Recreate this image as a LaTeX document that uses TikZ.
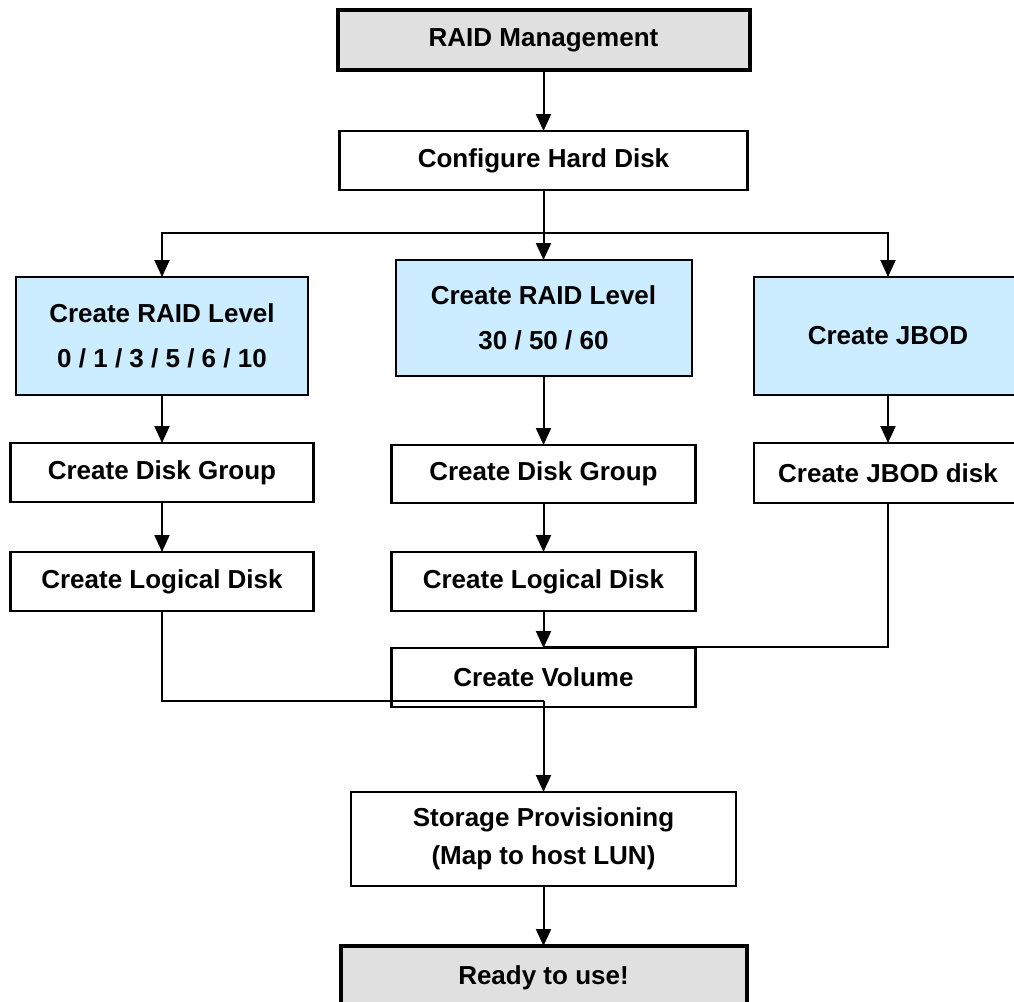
\documentclass[tikz,border=0pt]{standalone}
\usepackage{fontspec}
\setmainfont{Liberation Sans}
\usetikzlibrary{arrows.meta}
\definecolor{levelblue}{RGB}{204,236,255}
\definecolor{endgray}{RGB}{224,224,224}
\begin{document}
\begin{tikzpicture}[x=1pt,y=-1pt,
  every node/.style={font=\bfseries\fontsize{26}{30}\selectfont, align=center, inner sep=0pt, outer sep=0pt},
  stepbox/.style={draw, line width=2.5pt, fill=white},
  levelbox/.style={draw, line width=2pt, fill=levelblue},
  endbox/.style={draw, line width=4pt, fill=endgray},
  link/.style={line width=2pt},
  arrowlink/.style={link, -{Triangle[width=15pt,length=17pt]}}]
\useasboundingbox (0,0) rectangle (1014,1001);
\clip (0,0) rectangle (1014,1001);

% start and configuration
\node[endbox, minimum width=412pt, minimum height=60pt] (raid) at (543.5,40) {RAID Management};
\node[stepbox, minimum width=408pt, minimum height=59pt] (config) at (543.5,160.5) {Configure Hard Disk};

% three creation paths
\node[levelbox, minimum width=292pt, minimum height=118pt] (lvlA) at (162,336)
  {Create RAID Level\\[15pt]0 / 1 / 3 / 5 / 6 / 10};
\node[levelbox, minimum width=296pt, minimum height=116pt] (lvlB) at (543.5,318)
  {Create RAID Level\\[15pt]30 / 50 / 60};
\node[levelbox, minimum width=268pt, minimum height=118pt] (jbod) at (888,336) {Create JBOD};

\node[stepbox, minimum width=303pt, minimum height=59pt] (dgA) at (162,472.5) {Create Disk Group};
\node[stepbox, minimum width=304pt, minimum height=58pt] (dgB) at (543.5,474) {Create Disk Group};
\node[stepbox, minimum width=268pt, minimum height=60pt] (jdisk) at (888,473) {Create JBOD disk};

\node[stepbox, minimum width=303pt, minimum height=59pt] (ldA) at (162,581.5) {Create Logical Disk};
\node[stepbox, minimum width=304pt, minimum height=59pt] (ldB) at (543.5,581.5) {Create Logical Disk};

% volume, provisioning and finish
\node[stepbox, minimum width=304pt, minimum height=59pt] (vol) at (543.5,677.5) {Create Volume};
\node[stepbox, minimum width=385pt, minimum height=94pt, font=\bfseries\fontsize{26}{38}\selectfont] (prov) at (543.5,839)
  {Storage Provisioning\\(Map to host LUN)};
\node[endbox, minimum width=406pt, minimum height=64pt] (ready) at (543.5,978) {Ready to use!};

% connectors
\coordinate (split) at (543.5,233);
\coordinate (bendL) at (543.5,701);
\coordinate (bendR) at (543.5,647);

\draw[arrowlink] (raid) -- (config);
\draw[link] (config) -- (split);
\draw[arrowlink] (split) -- (lvlB);
\draw[arrowlink] (split) -| (lvlA);
\draw[arrowlink] (split) -| (jbod);

\draw[arrowlink] (lvlA) -- (dgA);
\draw[arrowlink] (lvlB) -- (dgB);
\draw[arrowlink] (jbod) -- (jdisk);
\draw[arrowlink] (dgA) -- (ldA);
\draw[arrowlink] (dgB) -- (ldB);

\draw[arrowlink] (ldB) -- (vol);
\draw[link] (jdisk) |- (bendR);
\draw[link] (ldA) |- (bendL);
\draw[arrowlink] (bendL) -- (prov);
\draw[arrowlink] (prov) -- (ready);
\end{tikzpicture}
\end{document}
